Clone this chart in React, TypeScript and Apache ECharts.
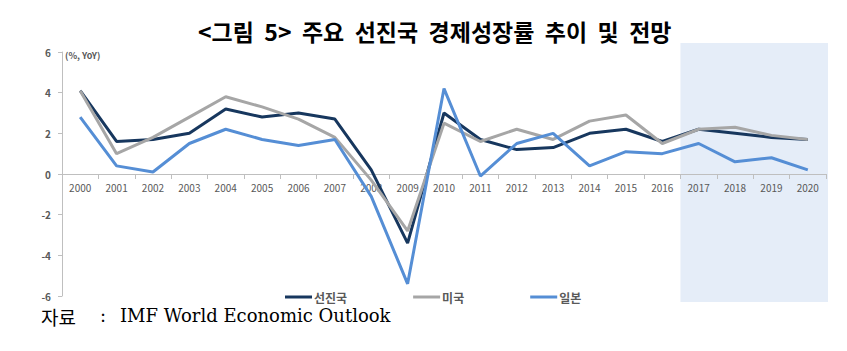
import React, { useEffect, useRef } from "react";
import * as echarts from "echarts";

const years = ["2000","2001","2002","2003","2004","2005","2006","2007","2008","2009","2010","2011","2012","2013","2014","2015","2016","2017","2018","2019","2020"];
const advanced = [4.1, 1.6, 1.7, 2.0, 3.2, 2.8, 3.0, 2.7, 0.2, -3.4, 3.0, 1.7, 1.2, 1.3, 2.0, 2.2, 1.6, 2.2, 2.0, 1.8, 1.7];
const usa = [4.1, 1.0, 1.8, 2.8, 3.8, 3.3, 2.7, 1.8, -0.3, -2.8, 2.5, 1.6, 2.2, 1.7, 2.6, 2.9, 1.5, 2.2, 2.3, 1.9, 1.7];
const japan = [2.8, 0.4, 0.1, 1.5, 2.2, 1.7, 1.4, 1.7, -1.1, -5.4, 4.2, -0.1, 1.5, 2.0, 0.4, 1.1, 1.0, 1.5, 0.6, 0.8, 0.2];
const seriesNames = ["선진국", "미국", "일본"];
const yTicks = { min: -6, max: 6, interval: 2 };
const forecastStart = "2017";

const KFONT = "'Noto Sans CJK KR', 'Noto Sans', sans-serif";
const SERIF = "'DejaVu Serif', 'Liberation Serif', 'Noto Sans CJK KR', serif";

export default function App() {
  const ref = useRef<HTMLDivElement>(null);
  useEffect(() => {
    if (!ref.current) return;
    const chart = echarts.init(ref.current, null, { renderer: "svg" });
    const colors = ["#17375e", "#a6a6a6", "#558ed5"];
    const gridTop = 52;
    const gridBottom = 55;
    const gridH = 351 - gridTop - gridBottom;
    const zeroOffset = -gridH * (0 - yTicks.min) / (yTicks.max - yTicks.min);
    const option: any = {
      animation: false,
      backgroundColor: "#ffffff",
      grid: { left: 62, right: 21, top: gridTop, bottom: gridBottom },
      legend: {
        left: 280,
        top: 286,
        itemWidth: 27,
        itemHeight: 3,
        itemGap: 66,
        icon: "rect",
        textStyle: { fontFamily: KFONT, fontSize: 12, color: "#595959", fontWeight: "bold", padding: [0, 0, 0, -3] },
        data: seriesNames,
      },
      xAxis: {
        type: "category",
        data: years,
        boundaryGap: true,
        offset: zeroOffset,
        axisLine: { onZero: false, lineStyle: { color: "#bfbfbf", width: 1 } },
        axisTick: { show: true, length: 5, lineStyle: { color: "#bfbfbf" } },
        axisLabel: { fontFamily: KFONT, fontSize: 10, color: "#595959", margin: 8, interval: 0 },
        z: 1,
      },
      yAxis: {
        type: "value",
        min: yTicks.min,
        max: yTicks.max,
        interval: yTicks.interval,
        splitLine: { show: false },
        axisLine: { show: true, lineStyle: { color: "#bfbfbf" } },
        axisTick: { show: true, length: 4, lineStyle: { color: "#bfbfbf" } },
        axisLabel: { fontFamily: KFONT, fontSize: 10, color: "#595959", margin: 11, fontWeight: "bold" },
      },
      series: [advanced, usa, japan].map((d, i) => ({
        name: seriesNames[i],
        type: "line",
        data: d,
        symbol: "none",
        color: colors[i],
        lineStyle: { width: 3, color: colors[i] },
        z: 3 + i,
      })),
    };
    chart.setOption(option);
    const idx = years.indexOf(forecastStart);
    const p0 = chart.convertToPixel({ xAxisIndex: 0 }, idx - 1) as number;
    const p1 = chart.convertToPixel({ xAxisIndex: 0 }, idx) as number;
    const left = (p0 + p1) / 2;
    const right = 828;
    chart.setOption({
      graphic: [
        {
          type: "rect",
          z: -10,
          silent: true,
          shape: { x: left, y: 43, width: right - left, height: 259 },
          style: { fill: "#e5edf8" },
        },
        {
          type: "text",
          left: 198,
          top: 19,
          style: { text: "<그림  5>  주요  선진국  경제성장률  추이  및  전망", fontFamily: KFONT, fontSize: 23, fontWeight: "bold", fill: "#000" },
        },
        {
          type: "text",
          left: 65,
          top: 51,
          style: { text: "(%, YoY)", fontFamily: KFONT, fontSize: 9, fontWeight: "bold", fill: "#595959" },
        },
        {
          type: "text",
          left: 41,
          top: 307,
          style: { text: "자료", fontFamily: KFONT, fontSize: 19, fill: "#000" },
        },
        {
          type: "text",
          left: 100,
          top: 306,
          style: { text: ":", fontFamily: SERIF, fontSize: 18, fill: "#000" },
        },
        {
          type: "text",
          left: 120,
          top: 306,
          style: { text: "IMF World Economic Outlook", fontFamily: SERIF, fontSize: 18, fill: "#000" },
        },
      ],
    });
    return () => chart.dispose();
  }, []);
  return <div ref={ref} style={{ position: "fixed", left: 0, top: 0, width: 847, height: 351 }} />;
}
